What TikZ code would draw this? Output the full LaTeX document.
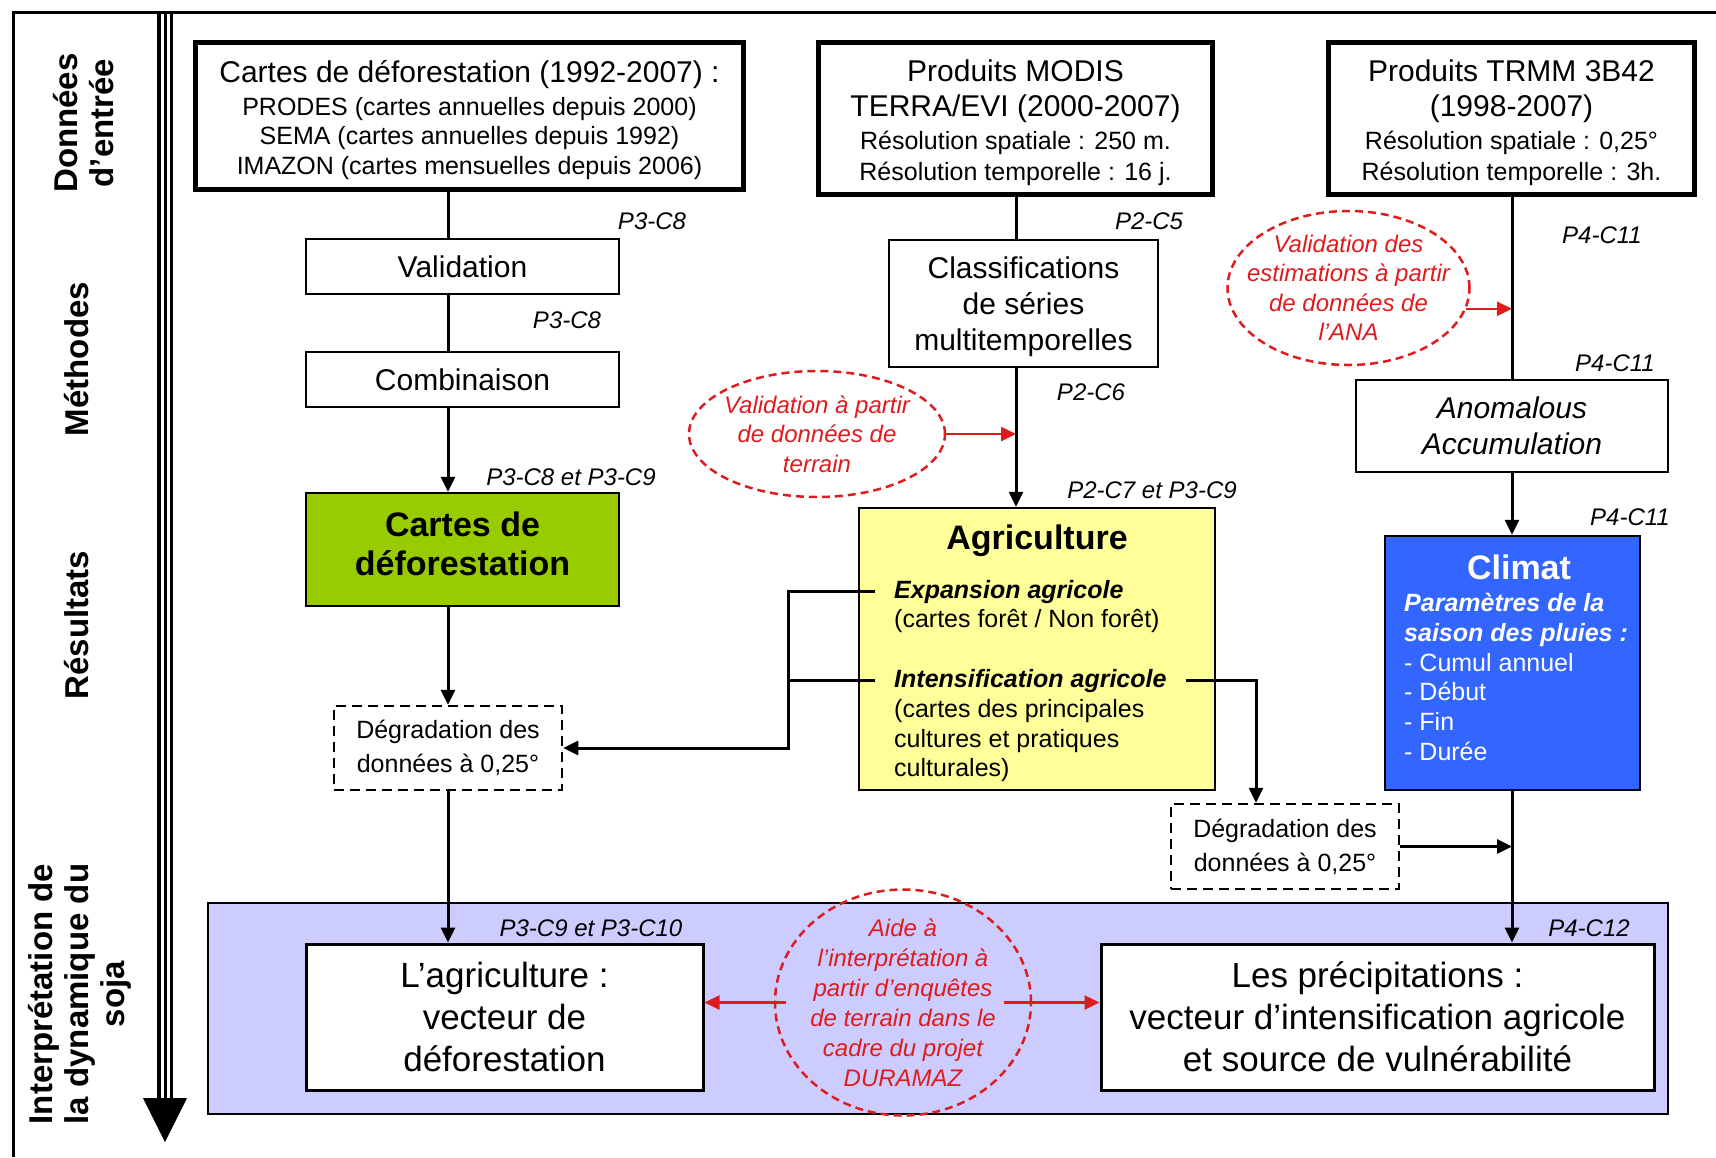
\documentclass[tikz,border=0pt]{standalone}
\usepackage{fontspec}
\setmainfont{Liberation Sans}
\usetikzlibrary{arrows.meta,shapes.geometric}

\definecolor{defgreen}{RGB}{153,204,0}
\definecolor{agriyellow}{RGB}{255,255,153}
\definecolor{climblue}{RGB}{51,102,255}
\definecolor{interpblue}{RGB}{204,204,255}
\definecolor{valred}{RGB}{222,28,30}

\tikzset{
  databox/.style={draw, line width=5pt, align=center, inner sep=0pt, font=\fontsize{25}{29.5}\selectfont},
  methbox/.style={draw, line width=2.5pt, fill=white, align=center, inner sep=0pt, font=\fontsize{30}{36}\selectfont},
  resbox/.style={draw, line width=2.5pt, inner sep=0pt},
  degrbox/.style={draw, line width=2.5pt, dash pattern=on 10pt off 6pt, fill=white, align=center, inner sep=0pt, font=\fontsize{25}{34}\selectfont},
  interpbox/.style={draw, line width=3pt, fill=white, align=center, inner sep=0pt, font=\fontsize{35}{42}\selectfont},
  redell/.style={draw=valred, ellipse, line width=2.5pt, dash pattern=on 8pt off 5pt, text=valred, align=center, inner xsep=-40pt, inner ysep=-30pt, font=\fontsize{24}{29.5}\selectfont\itshape},
  chaplab/.style={inner sep=0pt, font=\fontsize{24}{28}\selectfont\itshape},
  sidelab/.style={rotate=90, align=center, inner sep=0pt, font=\fontsize{33}{36}\selectfont\bfseries},
  link/.style={line width=3pt},
  flow/.style={line width=3pt, -{Triangle[length=15pt,width=14pt]}},
  redflow/.style={draw=valred, line width=2.5pt, -{Triangle[length=15pt,width=14pt]}},
}

\begin{document}
\begin{tikzpicture}[x=1pt,y=-1pt]
    \useasboundingbox (0,0) rectangle (1716,1157);

    % Frame and time axis
    \draw[line width=3pt] (13,1157) -- (13,12) -- (1716,12);
    \draw[line width=16pt] (165,12) -- (165,1100);
    \draw[white, line width=3pt] (162,14) -- (162,1100);
    \draw[white, line width=3pt] (168,14) -- (168,1100);
    \fill (143,1098) -- (187,1098) -- (165,1142) -- cycle;

    % Row labels
    \node[sidelab] (labdata) at (84,123) {Données\\d'entrée};
    \node[sidelab] (labmeth) at (77,359) {Méthodes};
    \node[sidelab] (labres) at (77,625) {Résultats};
    \node[sidelab] (labinterp) at (80,994) {Interprétation de\\la dynamique du\\soja};

    % Input data
    \node[databox, minimum width=548pt, minimum height=147pt] (defo) at (469.5,116)
      {\rule{0pt}{30pt}{\fontsize{30}{36}\selectfont Cartes de déforestation (1992-2007) :}\\[3.5pt]
       PRODES (cartes annuelles depuis 2000)\\
       SEMA (cartes annuelles depuis 1992)\\
       IMAZON (cartes mensuelles depuis 2006)};
    \node[databox, minimum width=394pt, minimum height=152pt] (modis) at (1015.5,118.5)
      {\rule{0pt}{31pt}{\fontsize{30}{36}\selectfont Produits MODIS}\\[5.5pt]
       {\fontsize{30}{36}\selectfont TERRA/EVI (2000-2007)}\\[3.5pt]
       Résolution spatiale : 250 m.\\[1.5pt]
       Résolution temporelle : 16 j.};
    \node[databox, minimum width=366pt, minimum height=152pt] (trmm) at (1511.5,118.5)
      {\rule{0pt}{31pt}{\fontsize{30}{36}\selectfont Produits TRMM 3B42}\\[5.5pt]
       {\fontsize{30}{36}\selectfont (1998-2007)}\\[3.5pt]
       Résolution spatiale : 0,25°\\[1.5pt]
       Résolution temporelle : 3h.};

    % Methods
    \node[methbox, minimum width=313pt, minimum height=55pt] (valid) at (462.5,266.5) {Validation};
    \node[methbox, minimum width=313pt, minimum height=55pt] (combi) at (462.5,379.5) {Combinaison};
    \node[methbox, minimum width=269pt, minimum height=127pt] (classif) at (1023.5,303.5)
      {\rule{0pt}{28.5pt}Classifications\\de séries\\multitemporelles};
    \node[methbox, minimum width=312pt, minimum height=92pt, font=\fontsize{30}{36}\selectfont\itshape] (anomal) at (1512,426)
      {Anomalous\\Accumulation};

    % Results
    \node[resbox, fill=defgreen, minimum width=313pt, minimum height=113pt, align=center,
          font=\fontsize{34}{39}\selectfont\bfseries] (cartdef) at (462.5,549.5) {Cartes de\\déforestation\rule[-12pt]{0pt}{12pt}};
    \node[resbox, fill=agriyellow, minimum width=356pt, minimum height=282pt] (agri) at (1037,649) {};
    \node[inner sep=0pt, font=\fontsize{34}{39}\selectfont\bfseries] (agtitle) at (1037,541) {Agriculture};
    \node[anchor=base west, inner xsep=19pt, inner ysep=0pt, font=\fontsize{25}{30}\selectfont\bfseries\itshape] (expa) at (875,598) {Expansion agricole};
    \node[anchor=base west, inner sep=0pt, font=\fontsize{25}{30}\selectfont] (expadesc) at (894,627) {(cartes forêt / Non forêt)};
    \node[anchor=base west, inner xsep=19pt, inner ysep=0pt, font=\fontsize{25}{30}\selectfont\bfseries\itshape] (inten) at (875,687) {Intensification agricole};
    \node[anchor=west, align=left, inner sep=0pt, font=\fontsize{25}{29.5}\selectfont] (intendesc) at (894,741)
      {(cartes des principales\\cultures et pratiques\\culturales)};
    \node[resbox, fill=climblue, minimum width=255pt, minimum height=254pt] (climat) at (1512.5,663) {};
    \node[inner sep=0pt, text=white, font=\fontsize{34}{39}\selectfont\bfseries] (cltitle) at (1519,567) {Climat};
    \node[anchor=west, align=left, inner sep=0pt, text=white, font=\fontsize{25}{29.8}\selectfont] (cllist) at (1404,677)
      {{\bfseries\itshape Paramètres de la}\\{\bfseries\itshape saison des pluies :}\\- Cumul annuel\\- Début\\- Fin\\- Durée};

    % Degraded data
    \node[degrbox, minimum width=228pt, minimum height=84pt] (degrA) at (448,748) {Dégradation des\\données à 0,25°};
    \node[degrbox, minimum width=228pt, minimum height=85pt] (degrB) at (1285,846.5) {Dégradation des\\données à 0,25°};

    % Interpretation band
    \draw[fill=interpblue, line width=2.5pt] (208,903) rectangle (1668,1114);
    \node[interpbox, minimum width=397pt, minimum height=146pt] (interpA) at (504.5,1017)
      {L'agriculture :\\vecteur de\\déforestation};
    \node[interpbox, minimum width=553pt, minimum height=146pt] (interpB) at (1377.5,1017)
      {Les précipitations :\\vecteur d'intensification agricole\\et source de vulnérabilité};

    % Field validation
    \node[redell, minimum width=256pt, minimum height=126pt] (valterr) at (817,434)
      {Validation à partir\\de données de\\terrain};
    \node[redell, minimum width=242pt, minimum height=154pt] (valana) at (1348.5,288)
      {Validation des\\estimations à partir\\de données de\\l'ANA};
    \node[redell, minimum width=256pt, minimum height=226pt, font=\fontsize{24}{30}\selectfont\itshape] (aide) at (903,1002.5)
      {Aide à\\l'interprétation à\\partir d'enquêtes\\de terrain dans le\\cadre du projet\\DURAMAZ};

    % Chapter references
    \node[chaplab] (refA) at (652,221) {P3-C8};
    \node[chaplab] (refB) at (567,320) {P3-C8};
    \node[chaplab] (refC) at (571,477) {P3-C8 et P3-C9};
    \node[chaplab] (refD) at (1149,221) {P2-C5};
    \node[chaplab] (refE) at (1091,392) {P2-C6};
    \node[chaplab] (refF) at (1152,490) {P2-C7 et P3-C9};
    \node[chaplab] (refG) at (1602,235) {P4-C11};
    \node[chaplab] (refH) at (1615,363) {P4-C11};
    \node[chaplab] (refI) at (1630,517) {P4-C11};
    \node[chaplab] (refJ) at (591,928) {P3-C9 et P3-C10};
    \node[chaplab] (refK) at (1589,928) {P4-C12};

    % Connectors
    \coordinate (colA) at (448,0);
    \coordinate (colB) at (1016,0);
    \coordinate (colC) at (1512,0);
    \coordinate (colD) at (788,0);
    \coordinate (colE) at (1256,0);
    \draw[link] (defo.south -| colA) -- (valid.north -| colA);
    \draw[link] (valid.south -| colA) -- (combi.north -| colA);
    \draw[flow] (combi.south -| colA) -- (cartdef.north -| colA);
    \draw[flow] (cartdef.south -| colA) -- (degrA.north);
    \draw[flow] (degrA.south) -- (interpA.north -| colA);
    \draw[link] (modis.south -| colB) -- (classif.north -| colB);
    \draw[flow] (classif.south -| colB) -- (agri.north -| colB);
    \draw[link] (trmm.south -| colC) -- (anomal.north -| colC);
    \draw[flow] (anomal.south -| colC) -- (climat.north -| colC);
    \draw[flow] (climat.south -| colC) -- (interpB.north -| colC);
    \draw[flow] (expa.west) -- (expa.west -| colD) |- (degrA.east);
    \draw[link] (inten.west) -- (inten.west -| colD);
    \draw[flow] (inten.east) -| (degrB.north -| colE);
    \draw[flow] (degrB.east) -- (degrB.east -| colC);

    % Red arrows
    \coordinate (aideL) at ([xshift=12pt]aide.west);
    \coordinate (aideR) at ([xshift=-28pt]aide.east);
    \draw[redflow] (valterr.east) -- (valterr.east -| colB);
    \draw[redflow] (valana.-10) -- (valana.-10 -| colC);
    \draw[redflow] (aideL) -- (aideL -| interpA.east);
    \draw[redflow] (aideR) -- (aideR -| interpB.west);
\end{tikzpicture}
\end{document}
